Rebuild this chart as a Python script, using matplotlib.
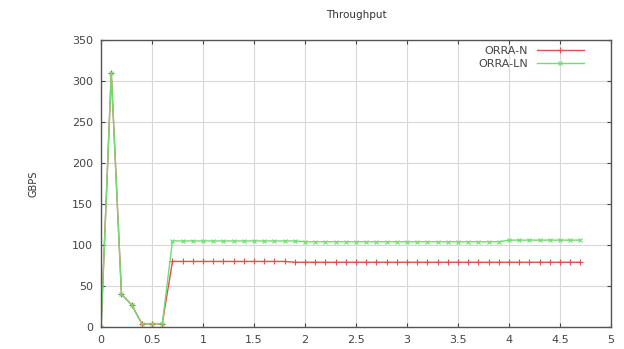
import matplotlib
matplotlib.use("Agg")
import matplotlib.pyplot as plt
import numpy as np

x_vals = [0.0, 0.1, 0.2, 0.3, 0.4, 0.5, 0.6] + [round(0.7 + 0.1 * i, 1) for i in range(41)]
early = [0, 310, 40, 27, 4, 4, 4]
orra_n = early + [80] * 12 + [79] * 29
orra_ln = early + [105] * 13 + [104] * 20 + [106] * 8

x_ticks = [0, 0.5, 1, 1.5, 2, 2.5, 3, 3.5, 4, 4.5, 5]
x_tick_labels = ["0", "0.5", "1", "1.5", "2", "2.5", "3", "3.5", "4", "4.5", "5"]
y_ticks = [0, 50, 100, 150, 200, 250, 300, 350]

fig = plt.figure(figsize=(6.24, 3.49), dpi=100)
ax = fig.add_axes([0.162, 0.063, 0.817, 0.822])

ax.plot(x_vals, orra_n, color="#e05050", lw=1.0, marker="+", ms=4, mew=0.8, label="ORRA-N")
ax.plot(x_vals, orra_ln, color="#70dd70", lw=1.0, marker="x", ms=3.5, mew=0.8, label="ORRA-LN")

ax.set_xlim(0, 5)
ax.set_ylim(0, 350)
ax.set_xticks(x_ticks)
ax.set_xticklabels(x_tick_labels)
ax.set_yticks(y_ticks)
ax.grid(True, color="#d8d8d8", lw=0.8)
ax.tick_params(axis="both", direction="in", length=3, labelsize=8, colors="#444444",
               top=True, right=True, pad=6)
for s in ax.spines.values():
    s.set_color("#555555")
    s.set_linewidth(1.0)

ax.set_title("Throughput", fontsize=7.5, color="#333333", pad=16)
ax.set_ylabel("GBPS", fontsize=7, color="#333333", labelpad=24)

leg = ax.legend(loc="upper right", bbox_to_anchor=(0.955, 0.995), frameon=False,
                markerfirst=False, fontsize=8, handlelength=4.2, borderaxespad=0,
                labelspacing=0.25, handletextpad=0.8)
for t in leg.get_texts():
    t.set_color("#444444")

fig.savefig("out.png", dpi=100)
